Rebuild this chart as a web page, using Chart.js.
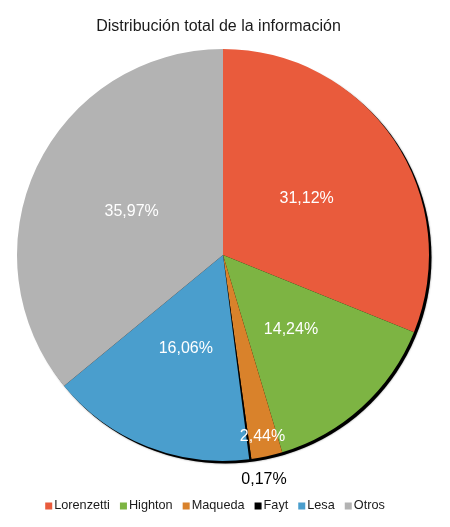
<!DOCTYPE html>
<html><head><meta charset="utf-8">
<script src="https://cdn.jsdelivr.net/npm/chart.js@4"></script>
<style>html,body{margin:0;padding:0;background:#fff}#wrap{width:450px;height:527px}</style>
</head><body><div id="wrap"><canvas id="c" width="450" height="527"></canvas></div>
<script>
const categories = ['Lorenzetti', 'Highton', 'Maqueda', 'Fayt', 'Lesa', 'Otros'];
const shares = [31.12, 14.24, 2.44, 0.17, 16.06, 35.97];
const titleText = 'Distribución total de la información';

const colors = ['#E95B3C', '#7DB443', '#D9822B', '#000000', '#4A9ECD', '#B3B3B3'];
const labelColors = ['#ffffff', '#ffffff', '#ffffff', '#000000', '#ffffff', '#ffffff'];
const labelRadius = [0.49, 0.49, 0.9, 1.1, 0.49, 0.49];
const labelShiftX = [0, 0, 0, 11, 0, 0];
const FONT = "'Liberation Sans', Arial, sans-serif";

const fmt = v => v.toFixed(2).replace('.', ',') + '%';

const decor = {
  id: 'decor',
  beforeDatasetsDraw(chart) {
    const ctx = chart.ctx;
    const a = chart.getDatasetMeta(0).data[0];
    ctx.save();
    ctx.beginPath();
    ctx.arc(a.x + 2.5, a.y + 2.5, a.outerRadius, 0, Math.PI * 2);
    ctx.fillStyle = '#000';
    ctx.shadowColor = 'rgba(0,0,0,0.45)';
    ctx.shadowBlur = 2;
    ctx.fill();
    ctx.restore();
  },
  afterDatasetsDraw(chart) {
    const ctx = chart.ctx;
    const meta = chart.getDatasetMeta(0);
    ctx.save();
    ctx.font = '16px ' + FONT;
    ctx.textAlign = 'center';
    ctx.textBaseline = 'middle';
    meta.data.forEach((arc, i) => {
      const mid = (arc.startAngle + arc.endAngle) / 2;
      const r = arc.outerRadius * labelRadius[i];
      const px = arc.x + Math.cos(mid) * r + labelShiftX[i];
      const py = arc.y + Math.sin(mid) * r;
      ctx.fillStyle = labelColors[i];
      ctx.fillText(fmt(shares[i]), px, py);
    });
    ctx.restore();
  },
  afterDraw(chart) {
    const ctx = chart.ctx;
    ctx.save();
    // title
    ctx.font = '16px ' + FONT;
    ctx.fillStyle = '#1a1a1a';
    ctx.textAlign = 'center';
    ctx.textBaseline = 'middle';
    ctx.fillText(titleText, 218.5, 27);
    // legend
    ctx.font = '12.7px ' + FONT;
    ctx.textAlign = 'left';
    const box = 7, gap = 2, spacing = 10;
    const widths = categories.map(c => ctx.measureText(c).width);
    const total = widths.reduce((s, w) => s + box + gap + w, 0) + spacing * (categories.length - 1);
    let x = 215 - total / 2;
    const yc = 505.5;
    categories.forEach((c, i) => {
      ctx.fillStyle = colors[i];
      ctx.fillRect(x, yc - 3, box, box);
      ctx.fillStyle = '#1a1a1a';
      ctx.fillText(c, x + box + gap, yc);
      x += box + gap + widths[i] + spacing;
    });
    ctx.restore();
  }
};

new Chart(document.getElementById('c'), {
  type: 'pie',
  data: {
    labels: categories,
    datasets: [{ data: shares, backgroundColor: colors, borderWidth: 0 }]
  },
  options: {
    responsive: false,
    animation: false,
    layout: { padding: { left: 17, right: 21, top: 49, bottom: 66 } },
    plugins: { legend: { display: false }, title: { display: false }, tooltip: { enabled: false } }
  },
  plugins: [decor]
});
</script></body></html>
